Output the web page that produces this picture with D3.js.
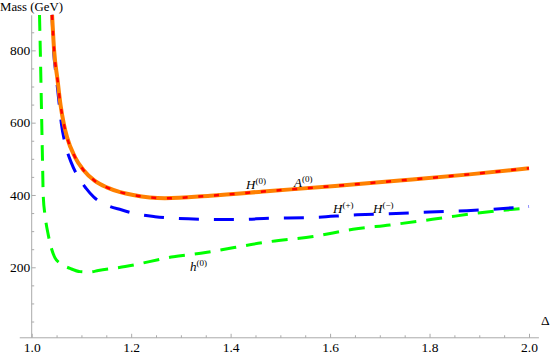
<!DOCTYPE html>
<html>
<head>
<meta charset="utf-8">
<script src="https://cdn.jsdelivr.net/npm/d3@7"></script>
<style>
  body { margin: 0; background: #fff; }
  svg { display: block; }
  .axis line { stroke: #aaa; }
</style>
</head>
<body>
<svg id="chart" width="552" height="354"></svg>
<script>
var serif = "'Liberation Serif', 'Times New Roman', serif";

// H(0) / A(0) (degenerate heavy states)
var heavyDelta = [1.041, 1.045, 1.052, 1.058, 1.065, 1.071, 1.087, 1.104, 1.127, 1.151, 1.178, 1.204,
                  1.268, 1.359, 1.479, 1.61, 1.74, 1.88, 2.0];
var heavyMass  = [898, 801, 718, 649, 594, 560, 505, 469, 439, 421, 408, 400,
                  391, 398, 411, 425, 440, 457, 474];

// H(+) / H(-)
var chargedDelta = [1.0408, 1.044, 1.049, 1.054, 1.060, 1.067, 1.080, 1.093, 1.109, 1.125, 1.151, 1.180,
                    1.216, 1.248, 1.340, 1.409, 1.479, 1.566, 1.654, 1.72, 1.80, 1.875, 2.0];
var chargedMass  = [898, 800, 732, 668, 594, 543, 488, 451, 419, 394, 372, 359,
                    346, 340, 333, 332, 335.5, 338, 345, 348, 353, 356.5, 368];

// h(0)
var lightDelta = [1.0157, 1.0177, 1.0201, 1.0217, 1.0233, 1.0267, 1.0334, 1.0402, 1.0469, 1.0569, 1.077,
                  1.0971, 1.117, 1.134, 1.188, 1.285, 1.340, 1.479, 1.566, 1.646, 1.72, 1.821, 1.902, 2.0];
var lightMass  = [898, 773, 607, 497, 395, 345, 289, 250, 226, 211, 197,
                  188, 187, 191, 202, 229, 239, 271, 285, 305, 317, 335.5, 351, 364];

var xMajor = [1.0, 1.2, 1.4, 1.6, 1.8, 2.0];
var yMajor = [200, 400, 600, 800];

var svg = d3.select("#chart");
var g = svg.append("g");

var xScale = d3.scaleLinear().domain([1, 2]).range([31.7, 529]);
var yScale = d3.scaleLinear().domain([0, 900]).range([339.6, 14.2]);

var xMinor = d3.range(1.05, 2.01, 0.05).filter(function(v) { return Math.abs(v * 5 - Math.round(v * 5)) > 1e-6; });
var yMinor = d3.range(50, 900, 50).filter(function(v) { return v % 200 !== 0; });

var axisY0 = yScale(5);

// axis lines
g.append("line")
	.attr("x1", xScale(0.976)).attr("x2", xScale(2.02))
	.attr("y1", axisY0).attr("y2", axisY0)
	.attr("stroke", "#aaa");
g.append("line")
	.attr("x1", xScale(1)).attr("x2", xScale(1))
	.attr("y1", axisY0).attr("y2", yScale(897))
	.attr("stroke", "#aaa");

// x ticks
var xAxis = g.append("g")
	.attr("class", "axis")
	.attr("transform", "translate(0," + axisY0 + ")")
	.call(d3.axisBottom(xScale).tickValues(xMajor).tickSize(-4).tickSizeOuter(0).tickPadding(4)
		.tickFormat(d3.format(".1f")));
xAxis.select(".domain").remove();
xAxis.selectAll("text").attr("dy", "0.75em");

var xAxisMinor = g.append("g")
	.attr("class", "axis")
	.attr("transform", "translate(0," + axisY0 + ")")
	.call(d3.axisBottom(xScale).tickValues(xMinor).tickSize(-2.5).tickFormat(""));
xAxisMinor.select(".domain").remove();

// y ticks
var yAxis = g.append("g")
	.attr("class", "axis")
	.attr("transform", "translate(" + xScale(1) + ",0)")
	.call(d3.axisLeft(yScale).tickValues(yMajor).tickSize(-4).tickSizeOuter(0).tickPadding(1.5));
yAxis.select(".domain").remove();

var yAxisMinor = g.append("g")
	.attr("class", "axis")
	.attr("transform", "translate(" + xScale(1) + ",0)")
	.call(d3.axisLeft(yScale).tickValues(yMinor).tickSize(-2.5).tickFormat(""));
yAxisMinor.select(".domain").remove();

g.selectAll(".axis").attr("font-family", serif).attr("font-size", 13.5);
g.selectAll(".axis text").attr("fill", "#000");

// axis titles
g.append("text").attr("x", 0).attr("y", 11)
	.attr("font-family", serif).attr("font-size", 12.8).text("Mass (GeV)");
g.append("text").attr("x", 541).attr("y", 325)
	.attr("font-family", serif).attr("font-size", 13.5).text("\u0394");

// curves
function makeLine(xs, ys) {
	var pts = xs.map(function(d, i) { return [d, ys[i]]; });
	return d3.line()
		.x(function(d) { return xScale(d[0]); })
		.y(function(d) { return yScale(d[1]); })
		.curve(d3.curveMonotoneX)(pts);
}

g.append("path")
	.attr("d", makeLine(lightDelta, lightMass))
	.attr("fill", "none").attr("stroke", "#00ff00").attr("stroke-width", 3)
	.attr("stroke-dasharray", "16,10");

g.append("path")
	.attr("d", makeLine(chargedDelta, chargedMass))
	.attr("fill", "none").attr("stroke", "#0000ff").attr("stroke-width", 3)
	.attr("stroke-dasharray", "20,15");

g.append("path")
	.attr("d", makeLine(heavyDelta, heavyMass))
	.attr("fill", "none").attr("stroke", "#ff8000").attr("stroke-width", 4);

g.append("path")
	.attr("d", makeLine(heavyDelta, heavyMass))
	.attr("fill", "none").attr("stroke", "#ff0000").attr("stroke-width", 2.5)
	.attr("stroke-dasharray", "5,10.7");

// curve labels
function addLabel(x, y, base, sup) {
	var t = g.append("text").attr("x", x).attr("y", y)
		.attr("font-family", serif).attr("font-size", 13);
	t.append("tspan").attr("font-style", "italic").text(base);
	t.append("tspan").attr("dy", -5).attr("font-size", 9).text(sup);
}
addLabel(246, 189, "H", "(0)");
addLabel(294, 187, "A", "(0)");
addLabel(333, 213, "H", "(+)");
addLabel(373, 213, "H", "(\u2212)");
addLabel(190, 271, "h", "(0)");
</script>
</body>
</html>
